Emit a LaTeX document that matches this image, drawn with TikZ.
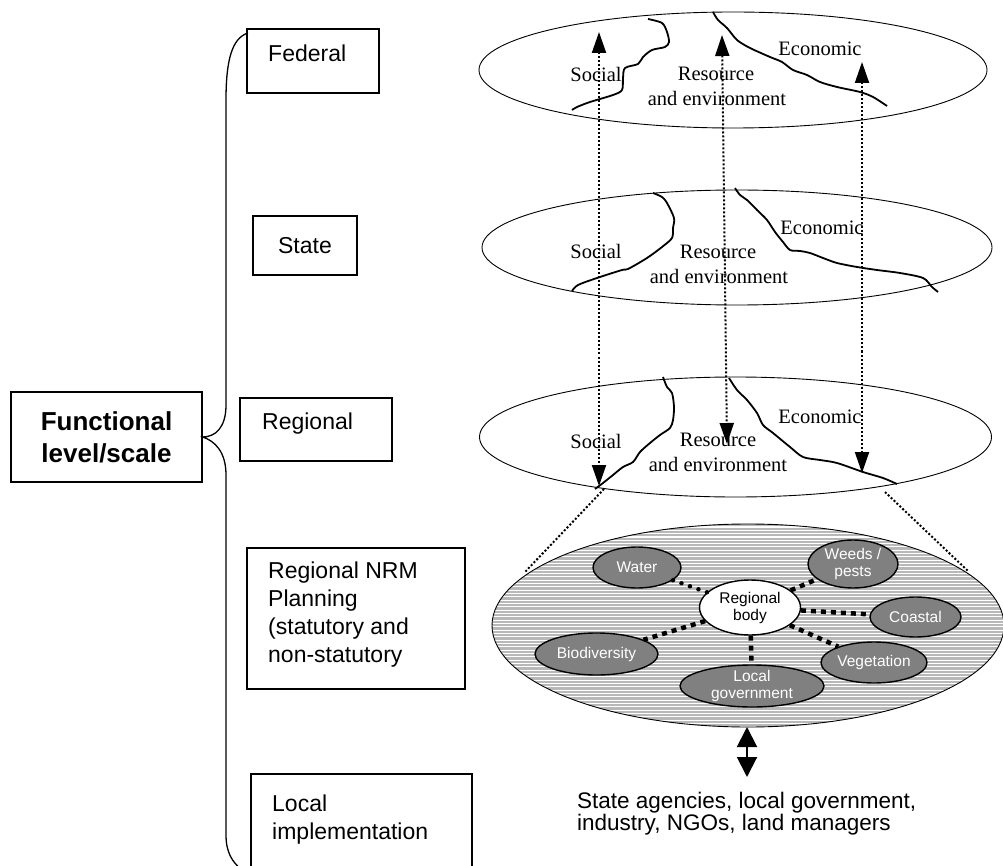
\documentclass[tikz,border=0pt]{standalone}
\usepackage{fontspec}
\setmainfont{Liberation Serif}
\setsansfont{Liberation Sans}
\usetikzlibrary{arrows.meta,shapes.geometric}

\tikzset{
  lvlbox/.style={draw,line width=1.3pt,inner sep=0pt},
  lvltext/.style={font=\sffamily\fontsize{23}{28}\selectfont,align=left,inner sep=0pt},
  layer/.style={draw,ellipse,line width=0.9pt,inner sep=0pt},
  zone/.style={font=\rmfamily\fontsize{20.5}{24}\selectfont,inner sep=0pt},
  boundary/.style={line width=1.8pt,line join=round},
  link/.style={line width=2pt,dotted,{Triangle[length=21pt,width=14pt]}-{Triangle[length=21pt,width=14pt]}},
  theme/.style={draw,ellipse,fill=black!50,line width=1.4pt,text=white,align=center,inner sep=-3pt,
    font=\sffamily\fontsize{15.5}{17.5}\selectfont},
  tie/.style={line width=4.5pt,dash pattern=on 5pt off 5pt},
  hatch/.style={line width=2.3pt,black!28}
}

\begin{document}
\begin{tikzpicture}[x=1pt,y=-1pt]
\useasboundingbox (0,0) rectangle (1003,866);

% levels on the left
\node[lvlbox,minimum width=191pt,minimum height=90pt,align=center,
      font=\sffamily\bfseries\fontsize{26}{32}\selectfont] (func) at (106.5,437) {Functional\\level/scale};
\node[lvlbox,minimum width=132pt,minimum height=64pt] (fed) at (313,61) {};
\node[lvltext,anchor=base west] (fedt) at (268,61.5) {Federal};
\node[lvlbox,minimum width=104pt,minimum height=59pt,font=\sffamily\fontsize{23}{28}\selectfont] (state) at (305,245.5) {State};
\node[lvlbox,minimum width=152pt,minimum height=63pt] (reg) at (316,429.5) {};
\node[lvltext,anchor=base west] (regt) at (262,429.5) {Regional};
\node[lvlbox,minimum width=218pt,minimum height=141pt] (nrm) at (356,618.5) {};
\node[lvltext,anchor=west] (nrmt) at (268,615) {Regional NRM\\Planning\\(statutory and\\non-statutory};
\node[lvlbox,minimum width=221pt,minimum height=100pt] (loc) at (361.5,824) {};
\node[lvltext,anchor=west] (loct) at (272,820) {Local\\implementation};

% brace
\draw[line width=1.3pt] (248,33) .. controls (232,38) and (226,60) .. (226,100)
  -- (226,405) .. controls (226,428) and (215,437) .. (func.east)
  .. controls (215,441) and (226,452) .. (226,475)
  -- (226,835) .. controls (226,852) and (232,862) .. (242,870);

% the three upper layers
\node[layer,minimum width=508pt,minimum height=116pt] (fedL) at (733,70) {};
\node[layer,minimum width=510pt,minimum height=115pt] (stateL) at (737,247.5) {};
\node[layer,minimum width=512pt,minimum height=120pt] (regL) at (735.5,437) {};

% zone boundaries
\draw[boundary] plot[smooth] coordinates {(648,19) (662,23) (667,32) (669,42) (665,47) (652,50) (643,57) (638,64) (625,68) (623,78) (622,90) (613,95) (590,102) (577,107) (572,110)};
\draw[boundary] plot[smooth] coordinates {(713,12) (718,20) (727,28) (737,40) (750,48) (770,57) (782,62) (793,70) (807,75) (820,82) (837,87) (860,92) (873,97) (887,106)};
\draw[boundary] plot[smooth] coordinates {(653,193) (662,197) (667,203) (674,218) (673,228) (672,238) (662,247) (647,258) (628,269) (622,270) (597,278) (578,285) (572,291)};
\draw[boundary] plot[smooth] coordinates {(735,188) (740,195) (747,200) (757,210) (767,220) (775,232) (783,242) (790,250) (800,251) (810,253) (823,258) (837,263) (857,267) (877,270) (900,273) (923,278) (932,287) (938,292)};
\draw[boundary] plot[smooth] coordinates {(663,377) (667,387) (672,393) (674,407) (673,420) (670,428) (660,435) (650,443) (640,452) (633,462) (623,467) (613,475) (603,483) (595,489)};
\draw[boundary] plot[smooth] coordinates {(729,378) (737,390) (747,400) (757,413) (763,425) (773,433) (790,447) (803,457) (820,460) (837,463) (863,472) (883,478) (897,484)};

% zone labels
\foreach \n/\y/\dy in {f/70/0, s/247/0, r/437/0}{
  \node[zone] (soc\n) at (596,\y+4+\dy) {Social};
}
\node[zone] (ecof) at (820,49) {Economic};
\node[zone] (resf) at (716,74) {Resource};
\node[zone] (envf) at (717,98) {and environment};
\node[zone] (ecos) at (822,228) {Economic};
\node[zone] (ress) at (718,252) {Resource};
\node[zone] (envs) at (719,276) {and environment};
\node[zone] (ecor) at (820,417) {Economic};
\node[zone] (resr) at (718,440) {Resource};
\node[zone] (envr) at (718,464) {and environment};

% dotted links between the layers
\foreach \i/\xa/\ya/\xb/\yb in {1/599/32/599/486, 2/722/35/727/444, 3/862/62/862/473}{
  \coordinate (up\i) at (\xa,\ya);
  \coordinate (dn\i) at (\xb,\yb);
  \draw[link] (up\i) -- (dn\i);
}

% zoom from regional layer to the NRM plan
\coordinate (zl1) at (604,489);
\coordinate (zl2) at (525,572);
\coordinate (zr1) at (885,492);
\coordinate (zr2) at (968,571);
\draw[line width=2pt,dotted] (zl1) -- (zl2);
\draw[line width=2pt,dotted] (zr1) -- (zr2);

% hatched NRM layer
\coordinate (nrmC) at (748,625.5);
\begin{scope}
  \clip (nrmC) ellipse [x radius=256pt,y radius=101.5pt];
  \foreach \y in {522,525.33,...,732}
    \draw[hatch] (490,\y) -- (1010,\y);
\end{scope}
\node[layer,minimum width=512pt,minimum height=203pt] (nrmL) at (nrmC) {};

% themes around the regional body
\node[draw,ellipse,fill=white,line width=1.4pt,inner sep=-3pt,align=center,
      minimum width=101pt,minimum height=55pt,font=\sffamily\fontsize{15.5}{17}\selectfont] (body) at (750,607.5) {Regional\\body};
\node[theme,minimum width=88pt,minimum height=41pt] (water) at (637,567.5) {Water};
\node[theme,minimum width=90pt,minimum height=48pt] (weeds) at (853,564) {Weeds /\\pests};
\node[theme,minimum width=91pt,minimum height=40pt] (coast) at (915.5,617) {Coastal};
\node[theme,minimum width=123pt,minimum height=42pt] (bio) at (596.5,654) {Biodiversity};
\node[theme,minimum width=106pt,minimum height=41pt] (veg) at (874,662.5) {Vegetation};
\node[theme,minimum width=144pt,minimum height=42pt] (lgov) at (752,686) {Local\\government};

\draw[line width=4.5pt,line cap=round,dash pattern=on 0pt off 9pt] (body) -- (water);
\foreach \t in {weeds,coast,bio,veg,lgov}
  \draw[tie] (body) -- (\t);

% partners below
\coordinate (pa) at (747,727);
\coordinate (pb) at (747,777);
\draw[line width=2pt,{Triangle[length=20pt,width=20pt]}-{Triangle[length=20pt,width=20pt]}] (pa) -- (pb);
\node[anchor=base west,align=left,inner sep=0pt,font=\sffamily\fontsize{22.5}{22}\selectfont] (partners) at (577,830)
  {State agencies, local government,\\industry, NGOs, land managers};
\end{tikzpicture}
\end{document}
